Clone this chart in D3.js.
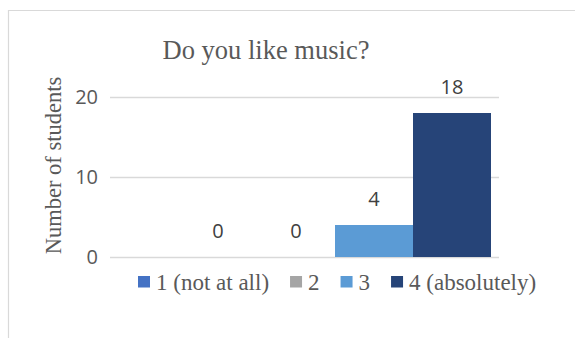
<!DOCTYPE html>
<html>
<head>
<meta charset="utf-8">
<script src="https://cdn.jsdelivr.net/npm/d3@7"></script>
<style>
  html, body { margin: 0; padding: 0; background: #fff; }
  svg { display: block; }
</style>
</head>
<body>
<svg id="chart" width="575" height="338"></svg>
<script>
// Survey answers: one group, four rating levels
const seriesNames = ["1 (not at all)", "2", "3", "4 (absolutely)"];
const seriesValues = [0, 0, 4, 18];
const seriesColors = ["#4472c4", "#a5a5a5", "#5b9bd5", "#264478"];
const yTicks = [0, 10, 20];

const title = "Do you like music?";
const yTitle = "Number of students";

const svg = d3.select("#chart");

// chart frame
svg.append("path")
  .attr("d", "M8.5,338 V10.5 H575")
  .attr("fill", "none")
  .attr("stroke", "#d9d9d9")
  .attr("stroke-width", 1.2);

const plot = { left: 110, right: 499, top: 97, bottom: 257 };

const y = d3.scaleLinear().domain([0, 20]).range([plot.bottom, plot.top]);
const x = d3.scaleBand().domain(seriesNames).range([179, 491]).padding(0);

// value axis with gridlines
const yAxis = d3.axisLeft(y)
  .tickValues(yTicks)
  .tickSize(-(plot.right - plot.left))
  .tickPadding(12)
  .tickFormat(d3.format("d"));

const gAxis = svg.append("g")
  .attr("transform", `translate(${plot.left},0)`)
  .call(yAxis);
gAxis.select(".domain").remove();
gAxis.selectAll(".tick line")
  .attr("stroke", "#d9d9d9")
  .attr("stroke-width", 1.3);
gAxis.selectAll(".tick text")
  .attr("fill", "#595959")
  .style("font-family", "'Open Sans', sans-serif")
  .style("font-size", "20px");

// bars
svg.append("g").selectAll("rect")
  .data(seriesNames)
  .join("rect")
  .attr("x", d => x(d))
  .attr("width", x.bandwidth())
  .attr("y", (d, i) => y(seriesValues[i]))
  .attr("height", (d, i) => y(0) - y(seriesValues[i]))
  .attr("fill", (d, i) => seriesColors[i]);

// value labels
svg.append("g").selectAll("text")
  .data(seriesNames)
  .join("text")
  .attr("x", d => x(d) + x.bandwidth() / 2)
  .attr("y", (d, i) => y(seriesValues[i]) - 19)
  .attr("text-anchor", "middle")
  .attr("fill", "#404040")
  .style("font-family", "'Open Sans', sans-serif")
  .style("font-size", "20px")
  .text((d, i) => seriesValues[i]);

// title
svg.append("text")
  .attr("x", 266)
  .attr("y", 59)
  .attr("text-anchor", "middle")
  .attr("fill", "#595959")
  .style("font-family", "'Liberation Serif', 'Times New Roman', serif")
  .style("font-size", "26.5px")
  .text(title);

// value axis title
svg.append("text")
  .attr("transform", "translate(61,165.5) rotate(-90)")
  .attr("text-anchor", "middle")
  .attr("fill", "#595959")
  .style("font-family", "'Liberation Serif', 'Times New Roman', serif")
  .style("font-size", "22.5px")
  .text(yTitle);

// legend
const legend = svg.append("g");
let lx = 138;
seriesNames.forEach((name, i) => {
  const item = legend.append("g").attr("transform", `translate(${lx},0)`);
  item.append("rect")
    .attr("x", 0).attr("y", 276)
    .attr("width", 12).attr("height", 11.5)
    .attr("fill", seriesColors[i]);
  const t = item.append("text")
    .attr("x", 18)
    .attr("y", 290)
    .attr("fill", "#595959")
    .style("font-family", "'Liberation Serif', 'Times New Roman', serif")
    .style("font-size", "23px")
    .text(name);
  lx += 18 + t.node().getComputedTextLength() + 21;
});
</script>
</body>
</html>
